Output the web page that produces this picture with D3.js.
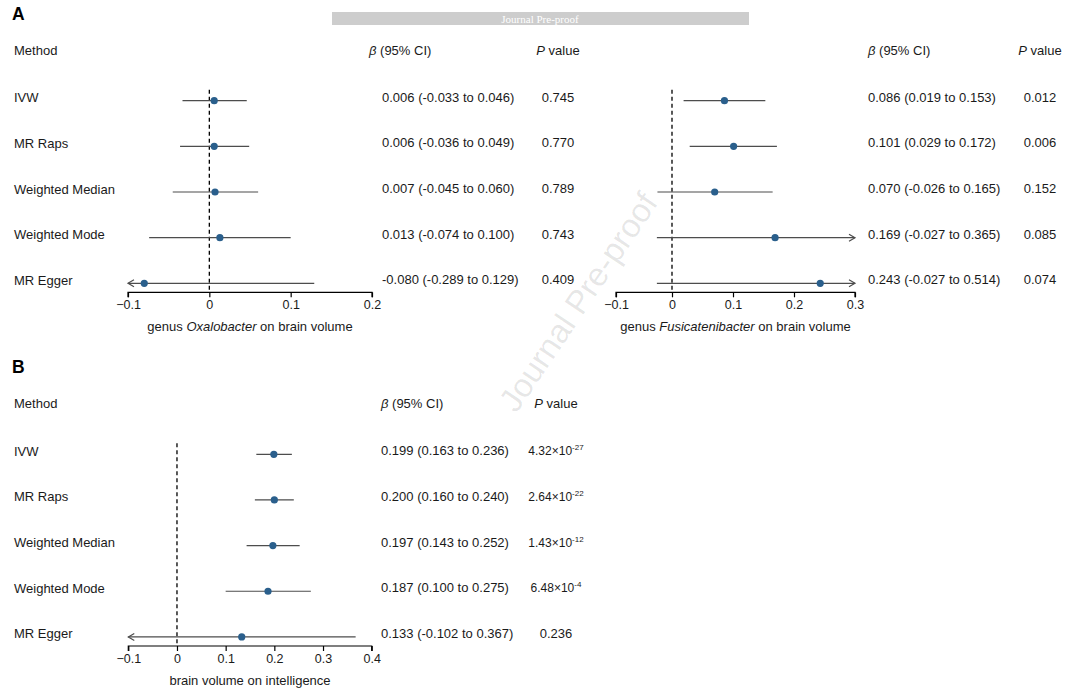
<!DOCTYPE html>
<html>
<head>
<meta charset="utf-8">
<script src="https://cdn.jsdelivr.net/npm/d3@7/dist/d3.min.js"></script>
<style>
  html, body { margin: 0; padding: 0; background: #fff; }
  svg { display: block; font-family: "Liberation Sans", Arial, sans-serif; }
</style>
</head>
<body>
<svg id="chart" width="1080" height="695"></svg>
<script>
// ---------------- DATA ----------------
const methods = ["IVW", "MR Raps", "Weighted Median", "Weighted Mode", "MR Egger"];

// Panel A left: genus Oxalobacter on brain volume
const oxaBeta = [0.006, 0.006, 0.007, 0.013, -0.080];
const oxaLow  = [-0.033, -0.036, -0.045, -0.074, -0.289];
const oxaHigh = [0.046, 0.049, 0.060, 0.100, 0.129];
const oxaP    = ["0.745", "0.770", "0.789", "0.743", "0.409"];
const oxaTicks = [-0.1, 0, 0.1, 0.2];

// Panel A right: genus Fusicatenibacter on brain volume
const fusBeta = [0.086, 0.101, 0.070, 0.169, 0.243];
const fusLow  = [0.019, 0.029, -0.026, -0.027, -0.027];
const fusHigh = [0.153, 0.172, 0.165, 0.365, 0.514];
const fusP    = ["0.012", "0.006", "0.152", "0.085", "0.074"];
const fusTicks = [-0.1, 0, 0.1, 0.2, 0.3];

// Panel B: brain volume on intelligence
const bvBeta = [0.199, 0.200, 0.197, 0.187, 0.133];
const bvLow  = [0.163, 0.160, 0.143, 0.100, -0.102];
const bvHigh = [0.236, 0.240, 0.252, 0.275, 0.367];
const bvPMant = ["4.32", "2.64", "1.43", "6.48", "0.236"];
const bvPExp  = ["-27", "-22", "-12", "-4", null];
const bvTicks = [-0.1, 0, 0.1, 0.2, 0.3, 0.4];

// ---------------- DRAW ----------------
const svg = d3.select("#chart");
const TXT = "#1a1a1a";
const DOT = "#2a5f8c";
const LINE = "#4d4d4d";
const fmtCI = d => d3.format(".3f")(d).replace("−", "-");
const fmtTick = d => d === 0 ? "0" : d3.format(".1f")(d);

// banner
svg.append("rect").attr("x", 332).attr("y", 12).attr("width", 417).attr("height", 13).attr("fill", "#cdcdcd");
svg.append("text").attr("x", 540).attr("y", 22.5).attr("text-anchor", "middle")
  .attr("font-family", "'Liberation Serif', 'DejaVu Serif', serif").attr("font-size", 11)
  .attr("fill", "#fff").text("Journal Pre-proof");

// panel letters
svg.append("text").attr("x", 12).attr("y", 19.5).attr("font-size", 17.5).attr("font-weight", "bold").attr("fill", "#000").text("A");
svg.append("text").attr("x", 12).attr("y", 373).attr("font-size", 17.5).attr("font-weight", "bold").attr("fill", "#000").text("B");

function forest(opt) {
  const g = svg.append("g");
  const y = d3.scaleLinear().domain([0, methods.length - 1]).range([opt.y0, opt.y0 + 182.6]);
  const x = opt.x;
  const [dmin, dmax] = [opt.ticks[0], opt.ticks[opt.ticks.length - 1]];

  // headers
  if (opt.showMethod) {
    g.append("text").attr("x", 14).attr("y", opt.headerY).attr("font-size", 13).attr("fill", TXT).text("Method");
    g.selectAll(".mlab").data(methods).join("text")
      .attr("x", 14).attr("y", (d, i) => y(i) + 1.5).attr("font-size", 13).attr("fill", TXT).text(d => d);
  }
  const bh = g.append("text").attr("x", opt.ciHeadX).attr("y", opt.headerY).attr("font-size", 13).attr("fill", TXT);
  bh.append("tspan").attr("font-style", "italic").text("β");
  bh.append("tspan").text(" (95% CI)");
  const ph = g.append("text").attr("x", opt.pX).attr("y", opt.headerY).attr("text-anchor", "middle").attr("font-size", 13).attr("fill", TXT);
  ph.append("tspan").attr("font-style", "italic").text("P");
  ph.append("tspan").text(" value");

  // zero line
  g.append("line").attr("x1", x(0)).attr("x2", x(0)).attr("y1", opt.y0 - 11).attr("y2", opt.axisY)
    .attr("stroke", "#000").attr("stroke-width", 1.3).attr("stroke-dasharray", "4,3");

  // axis
  const axis = d3.axisBottom(x).tickValues(opt.ticks).tickFormat(fmtTick).tickSize(5).tickPadding(3);
  const ag = g.append("g").attr("transform", `translate(0,${opt.axisY})`).call(axis);
  ag.select(".domain").attr("stroke", "#000").attr("stroke-width", 1.2).attr("d", `M${x(dmin)},5V0H${x(dmax)}V5`);
  ag.selectAll(".tick line").attr("stroke", "#000").attr("stroke-width", 1.2);
  ag.selectAll(".tick text").attr("font-size", 12.5).attr("fill", TXT)
    .attr("font-family", "'Liberation Sans', Arial, sans-serif");

  // axis title
  const t = g.append("text").attr("x", (x(dmin) + x(dmax)) / 2).attr("y", opt.axisY + 39)
    .attr("text-anchor", "middle").attr("font-size", 13).attr("fill", TXT);
  opt.title.forEach(p => t.append("tspan").attr("font-style", p.it ? "italic" : "normal").text(p.s));

  // CI lines and arrows
  opt.beta.forEach((b, i) => {
    const lo = Math.max(opt.low[i], dmin), hi = Math.min(opt.high[i], dmax);
    const yy = y(i);
    g.append("line").attr("x1", x(lo)).attr("x2", x(hi)).attr("y1", yy).attr("y2", yy)
      .attr("stroke", LINE).attr("stroke-width", 1.2);
    if (opt.low[i] < dmin) {
      const tx = x(dmin);
      g.append("path").attr("d", `M${tx + 6},${yy - 3.5}L${tx},${yy}L${tx + 6},${yy + 3.5}`)
        .attr("fill", "none").attr("stroke", LINE).attr("stroke-width", 1.2);
    }
    if (opt.high[i] > dmax) {
      const tx = x(dmax);
      g.append("path").attr("d", `M${tx - 6},${yy - 3.5}L${tx},${yy}L${tx - 6},${yy + 3.5}`)
        .attr("fill", "none").attr("stroke", LINE).attr("stroke-width", 1.2);
    }
    g.append("circle").attr("cx", x(b)).attr("cy", yy).attr("r", 3.6).attr("fill", DOT);

    // CI text
    g.append("text").attr("x", opt.ciValX).attr("y", yy + 1).attr("font-size", 13).attr("fill", TXT)
      .text(`${fmtCI(b)} (${fmtCI(opt.low[i])} to ${fmtCI(opt.high[i])})`);
  });

  // P values
  opt.beta.forEach((b, i) => {
    const yy = y(i);
    const pt = g.append("text").attr("x", opt.pX).attr("y", yy + 1).attr("text-anchor", "middle")
      .attr("font-size", 13).attr("fill", TXT);
    if (opt.pExp && opt.pExp[i]) {
      pt.attr("font-size", 12);
      pt.append("tspan").text(opt.p[i] + "×10");
      pt.append("tspan").attr("font-size", 8).attr("dy", -5).text(opt.pExp[i]);
    } else {
      pt.text(opt.p[i]);
    }
  });
}

forest({
  showMethod: true, y0: 100.7, headerY: 55, axisY: 292.3,
  x: d3.scaleLinear().domain([-0.1, 0.2]).range([128, 372]),
  ticks: oxaTicks, beta: oxaBeta, low: oxaLow, high: oxaHigh, p: oxaP,
  ciHeadX: 369, ciValX: 382, pX: 558,
  title: [{s: "genus "}, {s: "Oxalobacter", it: true}, {s: " on brain volume"}]
});

forest({
  showMethod: false, y0: 100.7, headerY: 55, axisY: 292.3,
  x: d3.scaleLinear().domain([-0.1, 0, 0.3]).range([616, 672, 855]),
  ticks: fusTicks, beta: fusBeta, low: fusLow, high: fusHigh, p: fusP,
  ciHeadX: 868, ciValX: 868, pX: 1040,
  title: [{s: "genus "}, {s: "Fusicatenibacter", it: true}, {s: " on brain volume"}]
});

forest({
  showMethod: true, y0: 454.3, headerY: 408, axisY: 646,
  x: d3.scaleLinear().domain([-0.1, 0.4]).range([128.3, 371.7]),
  ticks: bvTicks, beta: bvBeta, low: bvLow, high: bvHigh, p: bvPMant, pExp: bvPExp,
  ciHeadX: 381, ciValX: 381, pX: 556,
  title: [{s: "brain volume on intelligence"}]
});

// watermark
svg.append("text").attr("transform", "translate(578,302) rotate(-56)")
  .attr("text-anchor", "middle").attr("dominant-baseline", "central")
  .attr("font-size", 33).attr("fill", "#000").attr("fill-opacity", 0.1)
  .text("Journal Pre-proof");
</script>
</body>
</html>
